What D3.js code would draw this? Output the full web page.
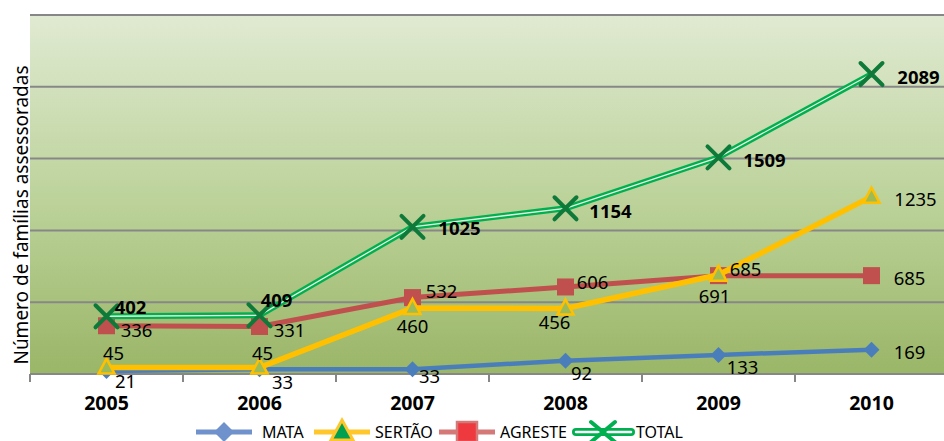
<!DOCTYPE html>
<html><head><meta charset="utf-8">
<script src="https://cdn.jsdelivr.net/npm/d3@7/dist/d3.min.js"></script>
<style>
html,body{margin:0;padding:0;background:#fff;}
svg{display:block;font-family:"Noto Sans","Open Sans",sans-serif;}
</style></head>
<body><svg id="c" width="944" height="441"></svg>
<script>
const years = ["2005","2006","2007","2008","2009","2010"];
const mata = [21, 33, 33, 92, 133, 169];
const sertao = [45, 45, 460, 456, 691, 1235];
const agreste = [336, 331, 532, 606, 685, 685];
const total = [402, 409, 1025, 1154, 1509, 2089];
const seriesNames = ["MATA", "SERTÃO", "AGRESTE", "TOTAL"];
const yTicks = [0, 500, 1000, 1500, 2000, 2500];
const yTitle = "Número de famílias assessoradas";

// label offsets (dx, dy of label centre relative to the point)
const offMata = [[19,10],[23,12],[17,6],[16,12],[24,12],[38,2]];
const offSertao = [[7,-15],[3,-15],[0,18],[-11,13],[-4,21],[44,2]];
const offAgreste = [[30,4],[30,3],[29,-7],[27,-5],[27,-7],[38,2]];
const offTotal = [[24,-10],[17,-16],[47,1],[45,2],[46,2],[47,2]];

const svg = d3.select("#c");
const W = 944, H = 441;
const mLeft = 30, mBottom = 374, mTop = 15;
const x = d3.scaleBand().domain(years).range([mLeft, mLeft + 153*6]).padding(0);
const y = d3.scaleLinear().domain([0, 2500]).range([mBottom, mTop]);
const cx = d => x(d) + x.bandwidth()/2;

const defs = svg.append("defs");
const g = defs.append("linearGradient").attr("id","bg").attr("x1",0).attr("y1",0).attr("x2",0).attr("y2",1);
g.append("stop").attr("offset","0%").attr("stop-color","#e0ead2");
g.append("stop").attr("offset","50%").attr("stop-color","#bdd39c");
g.append("stop").attr("offset","100%").attr("stop-color","#9ab667");

svg.append("rect").attr("x",mLeft).attr("y",mTop).attr("width",W-mLeft).attr("height",mBottom-mTop).attr("fill","url(#bg)");

// gridlines
svg.append("g").selectAll("line").data(yTicks.slice(1)).join("line")
  .attr("x1",mLeft).attr("x2",W).attr("y1",d=>y(d)).attr("y2",d=>y(d))
  .attr("stroke","#878787").attr("stroke-width",2);

// x axis
svg.append("line").attr("x1",mLeft).attr("x2",W).attr("y1",mBottom).attr("y2",mBottom).attr("stroke","#878787").attr("stroke-width",2);
svg.append("g").selectAll("line").data(years).join("line")
  .attr("x1",d=>x(d)).attr("x2",d=>x(d)).attr("y1",mBottom).attr("y2",mBottom+8)
  .attr("stroke","#878787").attr("stroke-width",2);
svg.append("g").selectAll("text").data(years).join("text")
  .attr("x",d=>cx(d)).attr("y",410).attr("text-anchor","middle")
  .attr("font-size",19.5).attr("font-weight","bold").attr("fill","#000").text(d=>d);

// y title
svg.append("text").attr("transform",`translate(28,${(62+368)/2}) rotate(-90)`)
  .attr("text-anchor","middle").attr("font-size",19).attr("fill","#000").text(yTitle);

const line = d3.line().x((d,i)=>cx(years[i])).y(d=>y(d));

// MATA
svg.append("path").datum(mata).attr("d",line).attr("fill","none").attr("stroke","#4a7ebb").attr("stroke-width",4.5);
svg.append("g").selectAll("path").data(mata).join("path")
  .attr("transform",(d,i)=>`translate(${cx(years[i])},${y(d)})`)
  .attr("d","M0,-8L8,0L0,8L-8,0Z").attr("fill","#4a7ebb");

// AGRESTE
svg.append("path").datum(agreste).attr("d",line).attr("fill","none").attr("stroke","#c0504d").attr("stroke-width",5);
svg.append("g").selectAll("rect").data(agreste).join("rect")
  .attr("x",(d,i)=>cx(years[i])-8.5).attr("y",d=>y(d)-8.5).attr("width",17).attr("height",17).attr("fill","#c0504d");

// SERTÃO
svg.append("path").datum(sertao).attr("d",line).attr("fill","none").attr("stroke","#ffc000").attr("stroke-width",5.5);
svg.append("g").selectAll("path").data(sertao).join("path")
  .attr("transform",(d,i)=>`translate(${cx(years[i])},${y(d)})`)
  .attr("d","M0,-9L8,6L-8,6Z").attr("fill","#9bbb59").attr("stroke","#ffc000").attr("stroke-width",2.5);

// TOTAL double line
svg.append("path").datum(total).attr("d",line).attr("fill","none").attr("stroke","#00b050").attr("stroke-width",6);
svg.append("path").datum(total).attr("d",line).attr("fill","none").attr("stroke","#e8f2e0").attr("stroke-width",1.3);
svg.append("g").selectAll("path").data(total).join("path")
  .attr("transform",(d,i)=>`translate(${cx(years[i])},${y(d)})`)
  .attr("d","M-11,-11L11,11M-11,11L11,-11").attr("stroke","#0e7a3a").attr("stroke-width",4).attr("stroke-linecap","round");

// labels
function labels(vals, offs, bold){
  svg.append("g").selectAll("text").data(vals).join("text")
    .attr("x",(d,i)=>cx(years[i])+offs[i][0]).attr("y",(d,i)=>y(d)+offs[i][1])
    .attr("text-anchor","middle").attr("dominant-baseline","central")
    .attr("font-size",18.5).attr("font-weight",bold?"bold":"normal").attr("fill","#000").text(d=>d);
}
labels(mata, offMata, false);
labels(sertao, offSertao, false);
labels(agreste, offAgreste, false);
labels(total, offTotal, true);

// legend
const ly = 432;
const leg = svg.append("g");
leg.append("line").attr("x1",196).attr("x2",252).attr("y1",ly).attr("y2",ly).attr("stroke","#7092cc").attr("stroke-width",5);
leg.append("path").attr("transform",`translate(224,${ly})`).attr("d","M0,-10L10,0L0,10L-10,0Z").attr("fill","#7092cc");
leg.append("line").attr("x1",314).attr("x2",370).attr("y1",ly).attr("y2",ly).attr("stroke","#ffc72c").attr("stroke-width",5);
leg.append("path").attr("transform",`translate(342,${ly})`).attr("d","M0,-12L11,8L-11,8Z").attr("fill","#00a050").attr("stroke","#ffc72c").attr("stroke-width",3);
leg.append("line").attr("x1",439).attr("x2",495).attr("y1",ly).attr("y2",ly).attr("stroke","#d47878").attr("stroke-width",5);
leg.append("rect").attr("x",457).attr("y",ly-10).attr("width",20).attr("height",20).attr("fill","#ee3a3f").attr("stroke","#d47878").attr("stroke-width",2.5);
leg.append("line").attr("x1",576).attr("x2",631).attr("y1",ly).attr("y2",ly).attr("stroke","#00b050").attr("stroke-width",8).attr("stroke-linecap","round");
leg.append("line").attr("x1",576).attr("x2",631).attr("y1",ly).attr("y2",ly).attr("stroke","#fff").attr("stroke-width",2.5).attr("stroke-linecap","round");
leg.append("path").attr("transform",`translate(603,${ly})`).attr("d","M-12,-10L12,10M-12,10L12,-10").attr("stroke","#00b050").attr("stroke-width",4).attr("stroke-linecap","round");
const legText = [[262,seriesNames[0]],[375,seriesNames[1]],[500,seriesNames[2]],[636,seriesNames[3]]];
leg.selectAll("text").data(legText).join("text").attr("x",d=>d[0]).attr("y",437.5)
  .attr("font-size",16).attr("fill","#000").text(d=>d[1]);
</script></body></html>
